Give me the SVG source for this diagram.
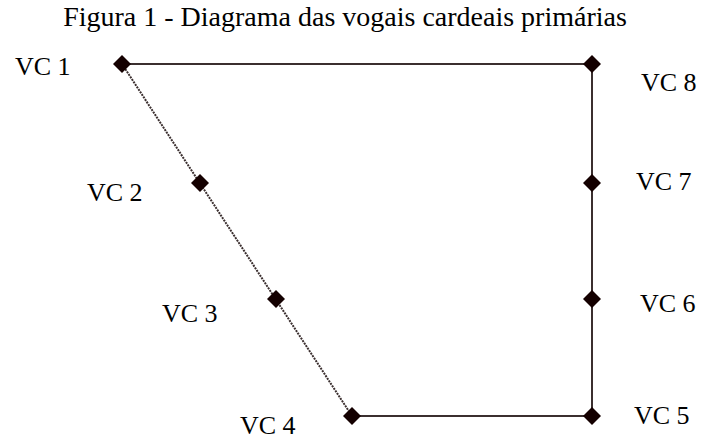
<svg xmlns="http://www.w3.org/2000/svg" width="707" height="441" viewBox="0 0 707 441">
<style>
.t{font-family:"Liberation Serif","Times New Roman",serif;font-size:26px;fill:#000}
.h{font-size:28px}
.e{stroke:#3b2f2f;stroke-width:2;fill:none}
.d{fill:#140000}
</style>
<defs><path id="dm" d="M0,-9 L9,0 L0,9 L-9,0 Z"/></defs>
<rect width="707" height="441" fill="#fff"/>
<text class="t h" x="345" y="26" text-anchor="middle">Figura 1 - Diagrama das vogais cardeais primárias</text>
<g id="connectors">
<path class="e" d="M122,64 L592,64 L592,416 L352,416"/>
<path class="e" d="M122,64 L352,416" stroke-dasharray="2,1"/>
</g>
<g id="vc1"><use href="#dm" class="d" x="122" y="64"/><text class="t" x="15" y="75">VC 1</text></g>
<g id="vc2"><use href="#dm" class="d" x="200" y="183"/><text class="t" x="87" y="201">VC 2</text></g>
<g id="vc3"><use href="#dm" class="d" x="276" y="299"/><text class="t" x="162" y="322">VC 3</text></g>
<g id="vc4"><use href="#dm" class="d" x="352" y="416"/><text class="t" x="240" y="434">VC 4</text></g>
<g id="vc5"><use href="#dm" class="d" x="592" y="416"/><text class="t" x="634" y="424">VC 5</text></g>
<g id="vc6"><use href="#dm" class="d" x="592" y="299"/><text class="t" x="640" y="312">VC 6</text></g>
<g id="vc7"><use href="#dm" class="d" x="592" y="183"/><text class="t" x="636" y="190">VC 7</text></g>
<g id="vc8"><use href="#dm" class="d" x="592" y="64"/><text class="t" x="641" y="91">VC 8</text></g>
</svg>
